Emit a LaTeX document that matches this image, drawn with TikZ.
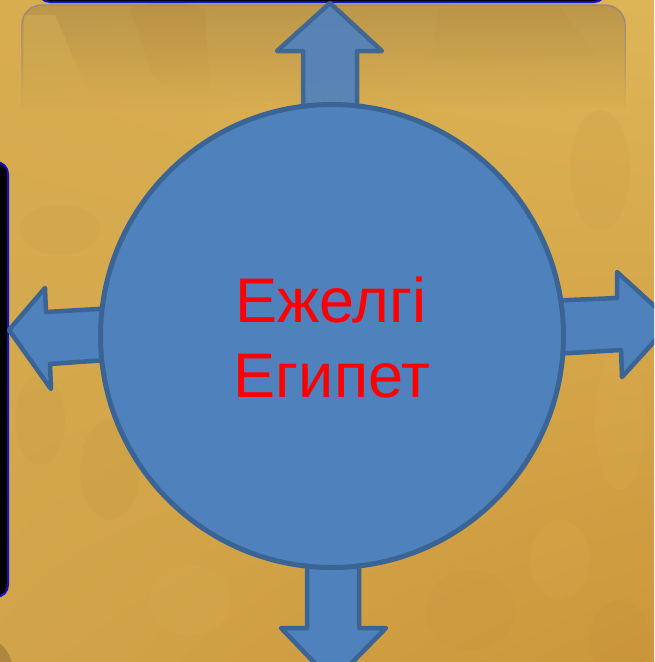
\documentclass[tikz,border=0pt]{standalone}
\usepackage{fontspec}
\setmainfont{Liberation Sans}
\usetikzlibrary{fadings,shadings}
\definecolor{bgA}{HTML}{D8AD50}
\definecolor{bgB}{HTML}{DDB557}
\definecolor{bgC}{HTML}{D2A449}
\definecolor{bgD}{HTML}{CC973B}
\definecolor{bgdark}{HTML}{B88A38}
\definecolor{bglight}{HTML}{E6C263}
\definecolor{panel}{HTML}{BC964A}
\definecolor{panelline}{HTML}{8C7F95}
\definecolor{blobfill}{HTML}{4F81BD}
\definecolor{blobline}{HTML}{3A6494}
\definecolor{frameblue}{HTML}{1010D0}
\definecolor{cornerbrown}{HTML}{A07A3C}
\tikzfading[name=fadedown, top color=transparent!0, bottom color=transparent!100]
\begin{document}
\begin{tikzpicture}[x=1pt,y=-1pt,
  arrowshape/.style={fill=blobfill, draw=blobline, line width=4.5pt, line join=round},
  blackframe/.style={fill=black, draw=frameblue, line width=2pt, rounded corners=12pt},
  spot/.style={fill=#1, opacity=0.09},
  label/.style={anchor=base, text=red, font=\fontsize{63}{63}\selectfont, inner sep=0pt}]
\useasboundingbox (0,0) rectangle (654,662);
\begin{scope}
\clip (0,0) rectangle (654,662);
% background parchment
\shade[upper left=bgA, upper right=bgB, lower left=bgC, lower right=bgD] (0,0) rectangle (654,662);
% texture spots
\fill[spot=bgdark] (60,230) ellipse (40 and 25);
\fill[spot=bglight] (250,120) ellipse (45 and 20);
\fill[spot=bgdark] (600,170) ellipse (30 and 60);
\fill[spot=bglight] (620,420) ellipse (25 and 70);
\fill[spot=bgdark] (110,470) ellipse (30 and 50);
\fill[spot=bglight] (190,600) ellipse (40 and 35);
\fill[spot=bgdark] (470,610) ellipse (45 and 40);
\fill[spot=bglight] (560,560) ellipse (30 and 40);
\fill[spot=bgdark] (620,640) ellipse (30 and 40);
\fill[spot=bgdark] (40,420) ellipse (25 and 45);
% top panel
\fill[panel, path fading=fadedown] (22,110) -- (22,25) arc[start angle=180, end angle=270, radius=20] -- (606,5) arc[start angle=-90, end angle=0, radius=20] -- (626,110) -- cycle;
\fill[bglight, opacity=0.3, path fading=fadedown] (24,15) -- (55,15) -- (95,110) -- (24,110) -- cycle;
\fill[bgdark, opacity=0.3, path fading=fadedown] (130,8) .. controls (150,0) and (190,0) .. (205,10) -- (210,90) .. controls (190,95) and (160,90) .. (150,70) -- cycle;
\fill[bgdark, opacity=0.2, path fading=fadedown] (440,8) -- (560,8) -- (600,60) -- (430,60) -- cycle;
\draw[panelline, line width=1.3pt, opacity=0.8, path fading=fadedown] (22,110) -- (22,25) arc[start angle=180, end angle=270, radius=20] -- (606,5) arc[start angle=-90, end angle=0, radius=20] -- (626,110);
% black frames
\draw[blackframe] (-40,162) rectangle (8,597);
\draw[blackframe] (38,-40) rectangle (606,2);
% corner piece
\fill[cornerbrown, opacity=0.7] (-25,672) circle (38);
% arrows
\draw[arrowshape, opacity=0.92] (330,3) -- (382,51) -- (357,51) -- (357,150) -- (303,150) -- (303,51) -- (277,51) -- cycle;
\draw[arrowshape] (307,530) -- (359,530) -- (359,628) -- (386,628) -- (333,682) -- (281,628) -- (307,628) -- cycle;
\draw[arrowshape] (9,330) -- (45,288) -- (46,312) -- (150,306) -- (150,357) -- (50,364) -- (51,389) -- cycle;
\draw[arrowshape] (520,302) -- (617,298) -- (617,272) -- (672,322) -- (622,377) -- (621,350) -- (520,356) -- cycle;
% circle
\node[circle, fill=blobfill, draw=blobline, line width=5pt, minimum size=463pt, inner sep=0pt] (c) at (332,336) {};
\node[label] (t1) at (331,322) {Ежелгі};
\node[label] (t2) at (332,397) {Египет};
\end{scope}
\end{tikzpicture}
\end{document}
